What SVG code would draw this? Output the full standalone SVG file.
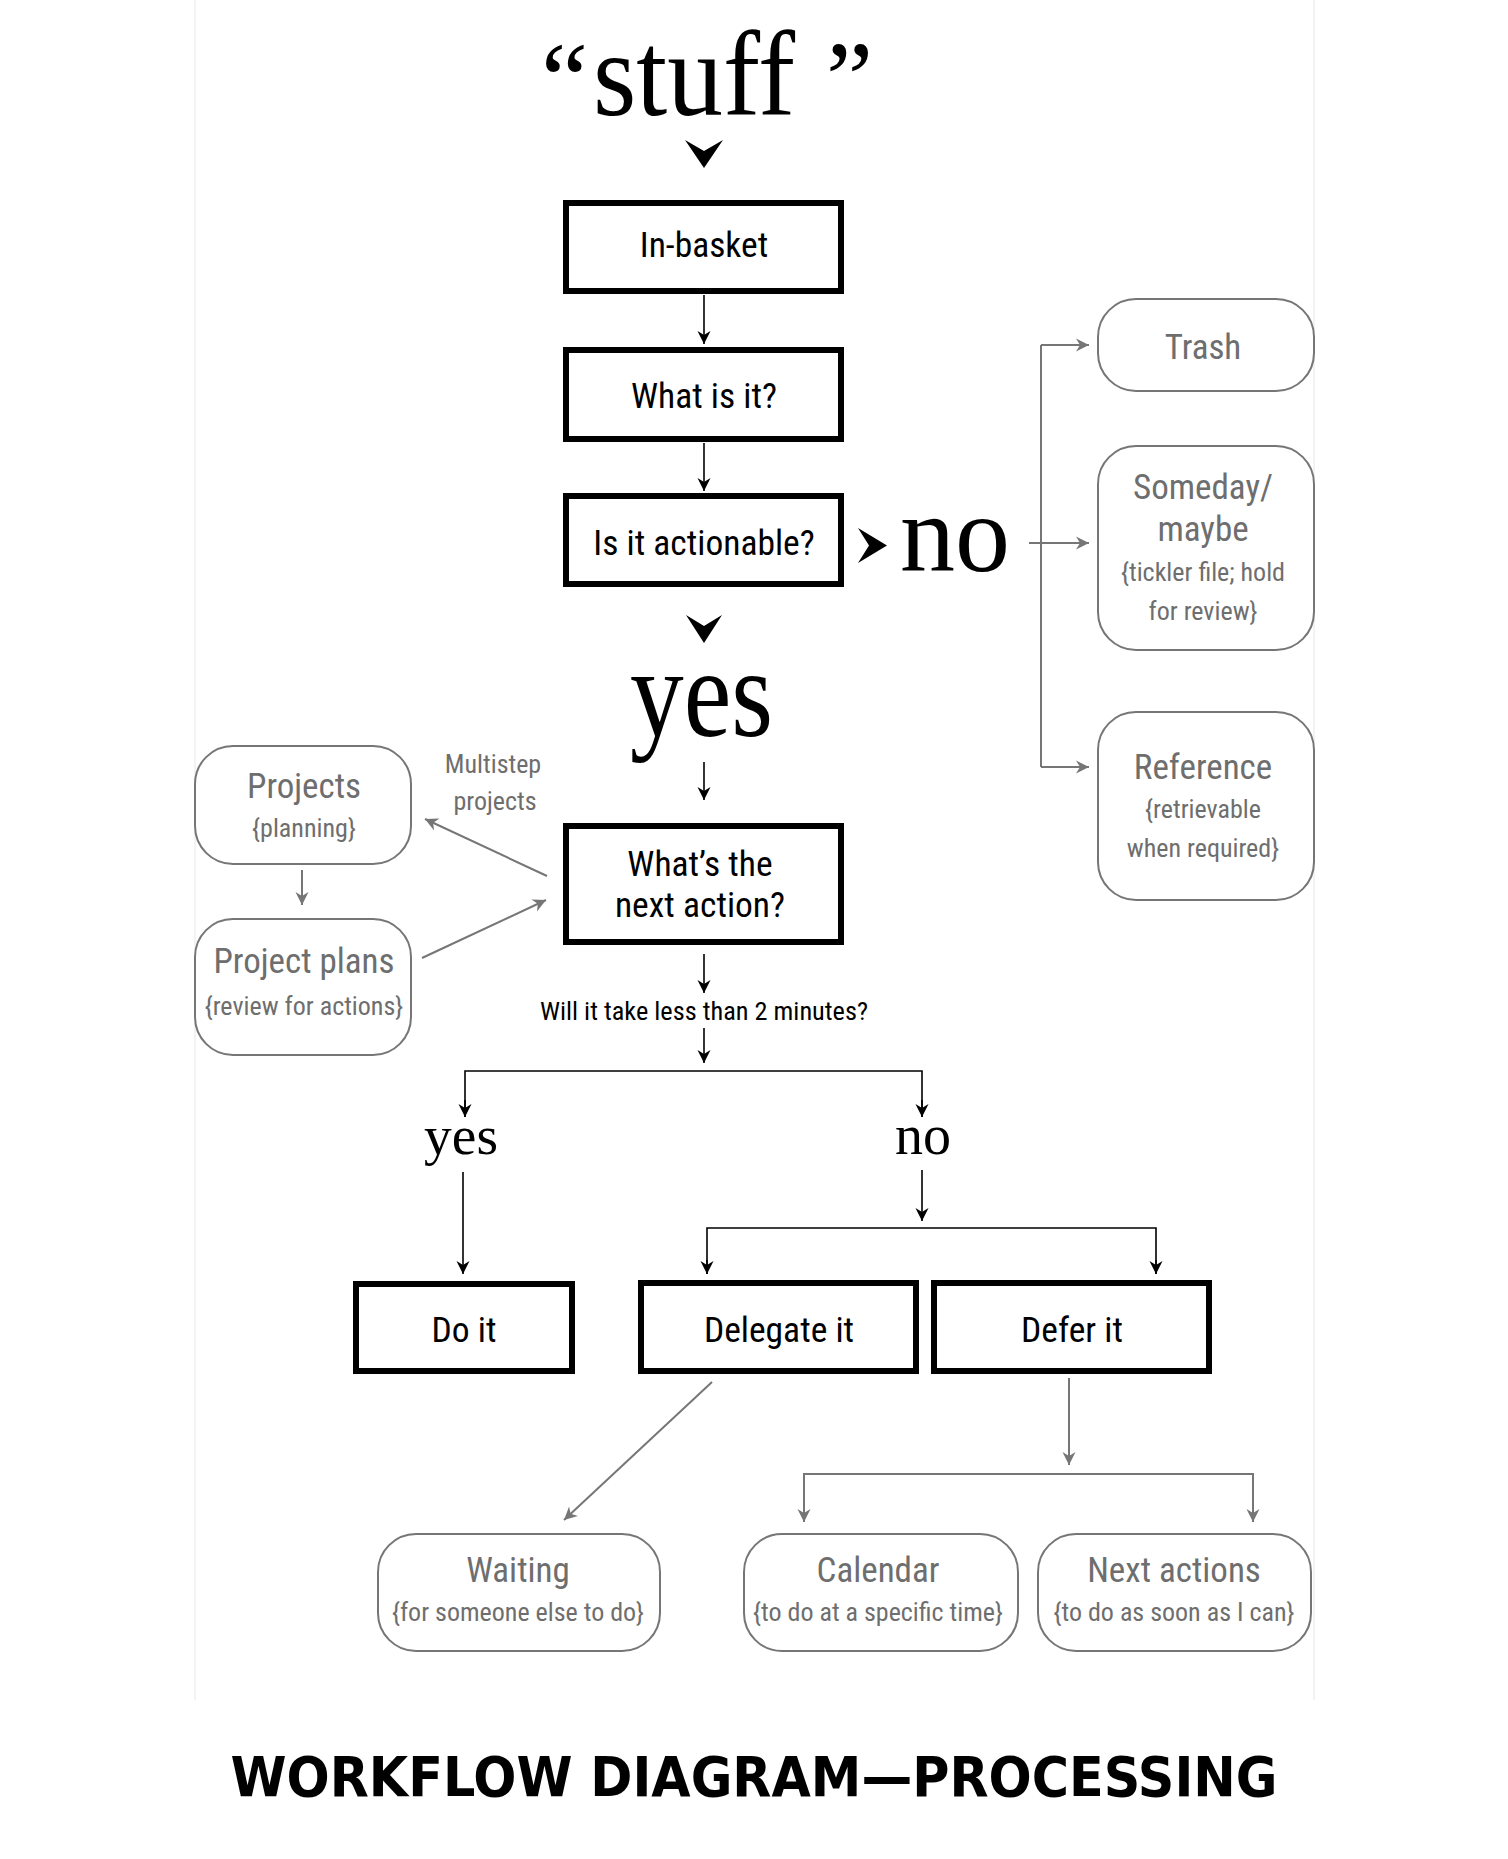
<svg xmlns="http://www.w3.org/2000/svg" width="1508" height="1859" viewBox="0 0 1508 1859">
<style>
.bg{fill:#fff}
.frame{stroke:#efefef;stroke-width:1.5;fill:none}
.box{fill:#fff;stroke:#000;stroke-width:6}
.rbox{fill:#fff;stroke:#767676;stroke-width:2}
.lab{font-family:"Liberation Sans Narrow","Roboto Condensed","DejaVu Sans Condensed",sans-serif;font-size:35.5px;fill:#000;text-anchor:middle}
.glab{font-family:"Liberation Sans Narrow","Roboto Condensed","DejaVu Sans Condensed",sans-serif;font-size:35px;fill:#6e6e6e;text-anchor:middle}
.gsub{font-family:"Liberation Sans Narrow","Roboto Condensed","DejaVu Sans Condensed",sans-serif;font-size:26px;fill:#6e6e6e;text-anchor:middle}
.q{font-family:"Liberation Sans Narrow","Roboto Condensed","DejaVu Sans Condensed",sans-serif;font-size:26.3px;fill:#000;text-anchor:middle}
.serif{font-family:"Liberation Serif","Times New Roman",serif;fill:#000}
.title{font-family:"DejaVu Sans Condensed","DejaVu Sans",sans-serif;font-weight:bold;font-size:55px;fill:#000;text-anchor:middle}
.bl{stroke:#000;stroke-width:1.6;fill:none}
.gl{stroke:#767676;stroke-width:2;fill:none}
</style>
<defs>
<marker id="ab" viewBox="-14 -8 16 16" refX="0" refY="0" markerWidth="16" markerHeight="16" markerUnits="userSpaceOnUse" orient="auto">
<path d="M0,0 L-13,-6.5 L-9,0 L-13,6.5 Z" fill="#000"/>
</marker>
<marker id="ag" viewBox="-14 -8 16 16" refX="0" refY="0" markerWidth="16" markerHeight="16" markerUnits="userSpaceOnUse" orient="auto">
<path d="M0,0 L-13,-6.5 L-9,0 L-13,6.5 Z" fill="#767676"/>
</marker>
</defs>
<rect class="bg" x="0" y="0" width="1508" height="1859"/>
<line class="frame" x1="195" y1="0" x2="195" y2="1700"/>
<line class="frame" x1="1314" y1="0" x2="1314" y2="1700"/>

<g id="stuff">
<text class="serif" x="541" y="115" font-size="106">“</text>
<text class="serif" x="593" y="115" font-size="120" textLength="202" lengthAdjust="spacingAndGlyphs">stuff</text>
<text class="serif" x="826" y="115" font-size="106">”</text>
</g>

<g id="connectors">
<path d="M685,140 L704,151 L723,140 L704,168 Z" fill="#000"/>
<line class="bl" x1="704" y1="295" x2="704" y2="344" marker-end="url(#ab)"/>
<line class="bl" x1="704" y1="443" x2="704" y2="491" marker-end="url(#ab)"/>
<path d="M858,528 L869,545.5 L858,563 L887,545.5 Z" fill="#000"/>
<path d="M686,615 L704,626 L722,615 L704,643 Z" fill="#000"/>
<line class="bl" x1="704" y1="762" x2="704" y2="800" marker-end="url(#ab)"/>
<line class="gl" x1="1029" y1="543" x2="1089" y2="543" marker-end="url(#ag)"/>
<line class="gl" x1="1041" y1="345" x2="1041" y2="767"/>
<line class="gl" x1="1041" y1="345" x2="1089" y2="345" marker-end="url(#ag)"/>
<line class="gl" x1="1041" y1="767" x2="1089" y2="767" marker-end="url(#ag)"/>
<line class="gl" x1="547" y1="876" x2="425" y2="819" marker-end="url(#ag)"/>
<line class="gl" x1="302" y1="870" x2="302" y2="905" marker-end="url(#ag)"/>
<line class="gl" x1="422" y1="958" x2="546" y2="900" marker-end="url(#ag)"/>
<line class="bl" x1="704" y1="954" x2="704" y2="993" marker-end="url(#ab)"/>
<line class="bl" x1="704" y1="1028" x2="704" y2="1063" marker-end="url(#ab)"/>
<path class="bl" d="M465,1117 V1071 H922 V1117" />
<line class="bl" x1="465" y1="1100" x2="465" y2="1117" marker-end="url(#ab)"/>
<line class="bl" x1="922" y1="1100" x2="922" y2="1117" marker-end="url(#ab)"/>
<line class="bl" x1="463" y1="1172" x2="463" y2="1274" marker-end="url(#ab)"/>
<line class="bl" x1="922" y1="1170" x2="922" y2="1221" marker-end="url(#ab)"/>
<path class="bl" d="M707,1274 V1228 H1156 V1274"/>
<line class="bl" x1="707" y1="1260" x2="707" y2="1274" marker-end="url(#ab)"/>
<line class="bl" x1="1156" y1="1260" x2="1156" y2="1274" marker-end="url(#ab)"/>
<line class="gl" x1="712" y1="1382" x2="564" y2="1520" marker-end="url(#ag)"/>
<line class="gl" x1="1069" y1="1378" x2="1069" y2="1465" marker-end="url(#ag)"/>
<path class="gl" d="M804,1522 V1474 H1253 V1522"/>
<line class="gl" x1="804" y1="1505" x2="804" y2="1522" marker-end="url(#ag)"/>
<line class="gl" x1="1253" y1="1505" x2="1253" y2="1522" marker-end="url(#ag)"/>
</g>

<g id="inbasket"><rect class="box" x="566" y="203" width="275" height="88"/><text class="lab" x="704" y="257">In-basket</text></g>
<g id="whatisit"><rect class="box" x="566" y="350" width="275" height="89"/><text class="lab" x="704" y="408">What is it?</text></g>
<g id="actionable"><rect class="box" x="566" y="496" width="275" height="88"/><text class="lab" x="704" y="555">Is it actionable?</text></g>
<g id="no-big"><text class="serif" x="900" y="571" font-size="110">no</text></g>
<g id="yes-big"><text class="serif" x="630" y="736" font-size="126" textLength="143" lengthAdjust="spacingAndGlyphs">yes</text></g>

<g id="trash"><rect class="rbox" x="1098" y="299" width="216" height="92" rx="38"/><text class="glab" x="1203" y="359">Trash</text></g>
<g id="someday"><rect class="rbox" x="1098" y="446" width="216" height="204" rx="38"/>
<text class="glab" x="1203" y="499">Someday/</text><text class="glab" x="1203" y="541">maybe</text>
<text class="gsub" x="1203" y="581">{tickler file; hold</text><text class="gsub" x="1203" y="620">for review}</text></g>
<g id="reference"><rect class="rbox" x="1098" y="712" width="216" height="188" rx="38"/>
<text class="glab" x="1203" y="779">Reference</text>
<text class="gsub" x="1203" y="818">{retrievable</text><text class="gsub" x="1203" y="857">when required}</text></g>

<g id="projects"><rect class="rbox" x="195" y="746" width="216" height="118" rx="38"/>
<text class="glab" x="304" y="798">Projects</text><text class="gsub" x="304" y="837">{planning}</text></g>
<g id="projectplans"><rect class="rbox" x="195" y="919" width="216" height="136" rx="38"/>
<text class="glab" x="304" y="973">Project plans</text><text class="gsub" x="304" y="1015">{review for actions}</text></g>
<g id="multistep"><text class="gsub" x="493" y="773">Multistep</text><text class="gsub" x="495" y="810">projects</text></g>

<g id="nextaction"><rect class="box" x="566" y="826" width="275" height="116"/>
<text class="lab" x="700" y="876">What’s the</text><text class="lab" x="700" y="917">next action?</text></g>
<g id="twomin"><text class="q" x="704" y="1020">Will it take less than 2 minutes?</text></g>
<g id="yes-small"><text class="serif" x="424" y="1154" font-size="55" textLength="74" lengthAdjust="spacingAndGlyphs">yes</text></g>
<g id="no-small"><text class="serif" x="923" y="1154" font-size="56" text-anchor="middle">no</text></g>

<g id="doit"><rect class="box" x="356" y="1284" width="216" height="87"/><text class="lab" x="464" y="1342">Do it</text></g>
<g id="delegate"><rect class="box" x="641" y="1283" width="275" height="88"/><text class="lab" x="779" y="1342">Delegate it</text></g>
<g id="defer"><rect class="box" x="934" y="1283" width="275" height="88"/><text class="lab" x="1072" y="1342">Defer it</text></g>

<g id="waiting"><rect class="rbox" x="378" y="1534" width="282" height="117" rx="38"/>
<text class="glab" x="518" y="1582">Waiting</text><text class="gsub" x="518" y="1621">{for someone else to do}</text></g>
<g id="calendar"><rect class="rbox" x="744" y="1534" width="274" height="117" rx="38"/>
<text class="glab" x="878" y="1582">Calendar</text><text class="gsub" x="878" y="1621">{to do at a specific time}</text></g>
<g id="nextactions"><rect class="rbox" x="1038" y="1534" width="273" height="117" rx="38"/>
<text class="glab" x="1174" y="1582">Next actions</text><text class="gsub" x="1174" y="1621">{to do as soon as I can}</text></g>

<text class="title" x="754" y="1796" textLength="1047" lengthAdjust="spacingAndGlyphs">WORKFLOW DIAGRAM—PROCESSING</text>
</svg>
